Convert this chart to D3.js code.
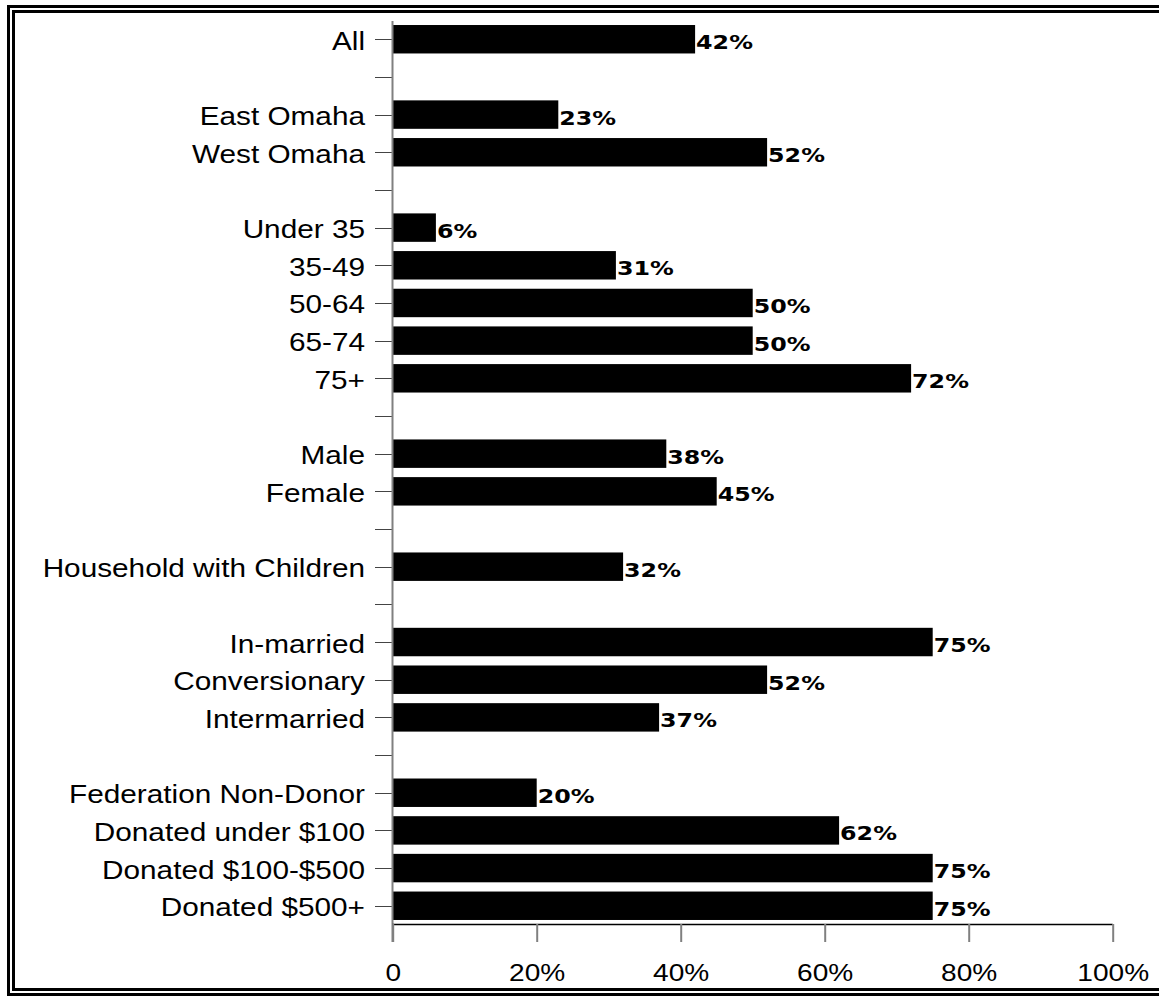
<!DOCTYPE html>
<html><head><meta charset="utf-8">
<script src="https://cdn.jsdelivr.net/npm/d3@7"></script>
<style>html,body{margin:0;padding:0;background:#fff;overflow:hidden}</style>
</head><body>
<script>
const categories = ["All","_g1","East Omaha","West Omaha","_g2","Under 35","35-49","50-64","65-74","75+","_g3","Male","Female","_g4","Household with Children","_g5","In-married","Conversionary","Intermarried","_g6","Federation Non-Donor","Donated under $100","Donated $100-$500","Donated $500+"];
const values = [42,null,23,52,null,6,31,50,50,72,null,38,45,null,32,null,75,52,37,null,20,62,75,75];
const xTicks = [0,20,40,60,80,100];
const xTickLabels = ["0","20%","40%","60%","80%","100%"];

const W = 1159, H = 996;
const svg = d3.select("body").append("svg").attr("width", W).attr("height", H).style("display","block");

// double border (open on the right: it lies outside the picture)
svg.append("path").attr("d",`M${W+10},6.5H8.5V994.5H${W+10}`).attr("fill","none").attr("stroke","#000").attr("stroke-width",3);
svg.append("path").attr("d",`M${W+10},11.5H13.5V989.5H${W+10}`).attr("fill","none").attr("stroke","#000").attr("stroke-width",3);

const x = d3.scaleLinear().domain([0,100]).range([392.7,1112.7]);
const y = d3.scaleBand().domain(categories).range([20.5,924.5]).paddingInner(0.245).paddingOuter(0.12);

// bars
const data = categories.map((c,i)=>({c, v: values[i]})).filter(d=>d.v!==null);
svg.selectAll("rect.bar").data(data).enter().append("rect")
  .attr("x", x(0)).attr("y", d=>y(d.c)).attr("width", d=>x(d.v)-x(0)).attr("height", y.bandwidth()).attr("fill","#000");

// value labels (wide font look via horizontal scale)
svg.selectAll("g.val").data(data).enter().append("g")
  .attr("transform", d=>`translate(${x(d.v)+1},${y(d.c)+y.bandwidth()/2+10}) scale(1.25,1)`)
  .append("text")
  .attr("font-family","DejaVu Sans").attr("font-weight","bold").attr("font-size",19).attr("fill","#000")
  .text(d=>d.v+"%");

// y axis (category ticks at band centres)
const yAxisG = svg.append("g");
categories.forEach(c=>{
  const cyc = y(c)+y.bandwidth()/2;
  const cy = Math.round(cyc)+0.5;
  yAxisG.append("line").attr("x1",375).attr("x2",392).attr("y1",cy).attr("y2",cy).attr("stroke","#444").attr("stroke-width",1);
  if(!c.startsWith("_g")){
    yAxisG.append("g").attr("transform",`translate(365,${cyc+10.5}) scale(1.19,1)`)
      .append("text").attr("text-anchor","end")
      .attr("font-family","Liberation Sans, Arial, sans-serif").attr("font-size",25).attr("fill","#000").text(c);
  }
});
yAxisG.append("line").attr("x1",392.5).attr("x2",392.5).attr("y1",21).attr("y2",942).attr("stroke","#808080").attr("stroke-width",2);

// x axis
const xAxis = d3.axisBottom(x).tickValues(xTicks).tickSize(18).tickFormat((d,i)=>xTickLabels[i]);
const xg = svg.append("g").attr("transform","translate(0,924)").call(xAxis);
xg.select(".domain").attr("d",`M${x(0)},0.5H${x(100)}`).attr("stroke","#000").attr("stroke-width",1.5);
xg.selectAll(".tick line").attr("stroke","#808080").attr("stroke-width",2);
xg.selectAll(".tick text").attr("font-family","Liberation Sans, Arial, sans-serif").attr("font-size",24).attr("fill","#000")
  .attr("dy",0).attr("y",0).attr("transform","translate(0,57) scale(1.17,1)");
</script>
</body></html>
